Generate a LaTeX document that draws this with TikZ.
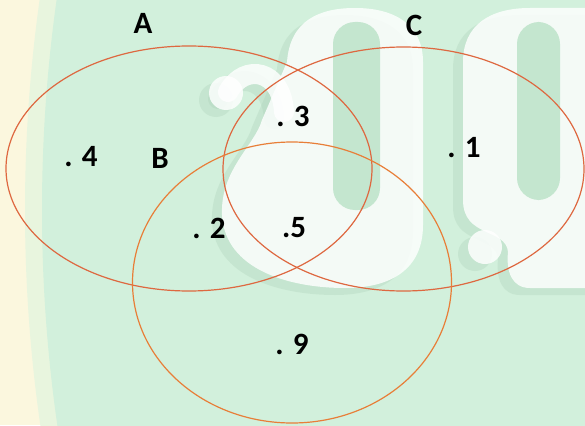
\documentclass[tikz,border=0pt]{standalone}
\usepackage{fontspec}
\setmainfont{Carlito}
\definecolor{bgyellow}{RGB}{251,247,222}
\definecolor{bgmid}{RGB}{232,245,222}
\definecolor{mint}{RGB}{210,240,220}
\definecolor{countercol}{RGB}{196,230,207}
\definecolor{shadowcol}{RGB}{170,206,182}
\definecolor{lineA}{RGB}{222,104,64}
\definecolor{lineB}{RGB}{232,126,56}
\tikzset{
  lbl/.style={font=\bfseries\fontsize{31}{31}\selectfont, inner sep=0pt, text=black},
  setline/.style={line width=1.2pt},
}
\begin{document}
\begin{tikzpicture}[x=1pt,y=-1pt]
\useasboundingbox (0,0) rectangle (585,425);
\fill[bgyellow] (0,0) rectangle (585,425);
\begin{scope}
  \clip (0,0) rectangle (585,425);
  \fill[bgmid] (1525,210) circle (1500);
  \fill[mint] (1542,210) circle (1500);
  % watermark glyphs (shadow, then white)
  \foreach \dx/\dy/\col/\op in {-10/7/shadowcol/0.3, 0/0/white/0.82}{
    \begin{scope}[shift={(\dx,\dy)}]
      \fill[\col, opacity=\op] (287,62) .. controls (290,20) and (320,8) .. (355,8)
        .. controls (395,8) and (423,25) .. (423,62) -- (423,225)
        .. controls (423,270) and (390,288) .. (345,288)
        .. controls (290,288) and (225,270) .. (222,215)
        .. controls (220,170) and (255,145) .. (262,120) -- cycle;
      \draw[\col, opacity=\op, line width=20pt, line cap=round] (228,92) .. controls (245,62) and (282,70) .. (284,112);
      \fill[\col, opacity=\op] (226,93) circle (17);
      \fill[\col, opacity=\op] (463,62) .. controls (463,25) and (490,8) .. (530,8) -- (640,8) -- (640,288) -- (530,288)
        .. controls (512,288) and (506,272) .. (508,252)
        .. controls (506,228) and (463,238) .. (463,200) -- cycle;
      \fill[\col, opacity=\op] (485,247) circle (17);
    \end{scope}
  }
  \fill[countercol, rounded corners=22pt] (333,22) rectangle (380,210);
  \fill[countercol, rounded corners=22pt] (517,22) rectangle (560,200);
\end{scope}
% sets
\draw[setline, lineA] (189,168.5) ellipse [x radius=183, y radius=122.5];
\draw[setline, lineA] (403.5,169) ellipse [x radius=180.5, y radius=122];
\draw[setline, lineB] (292,282.5) ellipse [x radius=159.5, y radius=140.5];
% labels
\node[lbl] (lA) at (143,23) {A};
\node[lbl] (lC) at (414,25) {C};
\node[lbl] (lB) at (160,158) {B};
\node[lbl] (e4) at (81,157) {. 4};
\node[lbl] (e3) at (293,116) {. 3};
\node[lbl] (e1) at (464,148) {. 1};
\node[lbl] (e2) at (209,228) {. 2};
\node[lbl] (e5) at (294,228) {.5};
\node[lbl] (e9) at (292,344) {. 9};
\end{tikzpicture}
\end{document}
